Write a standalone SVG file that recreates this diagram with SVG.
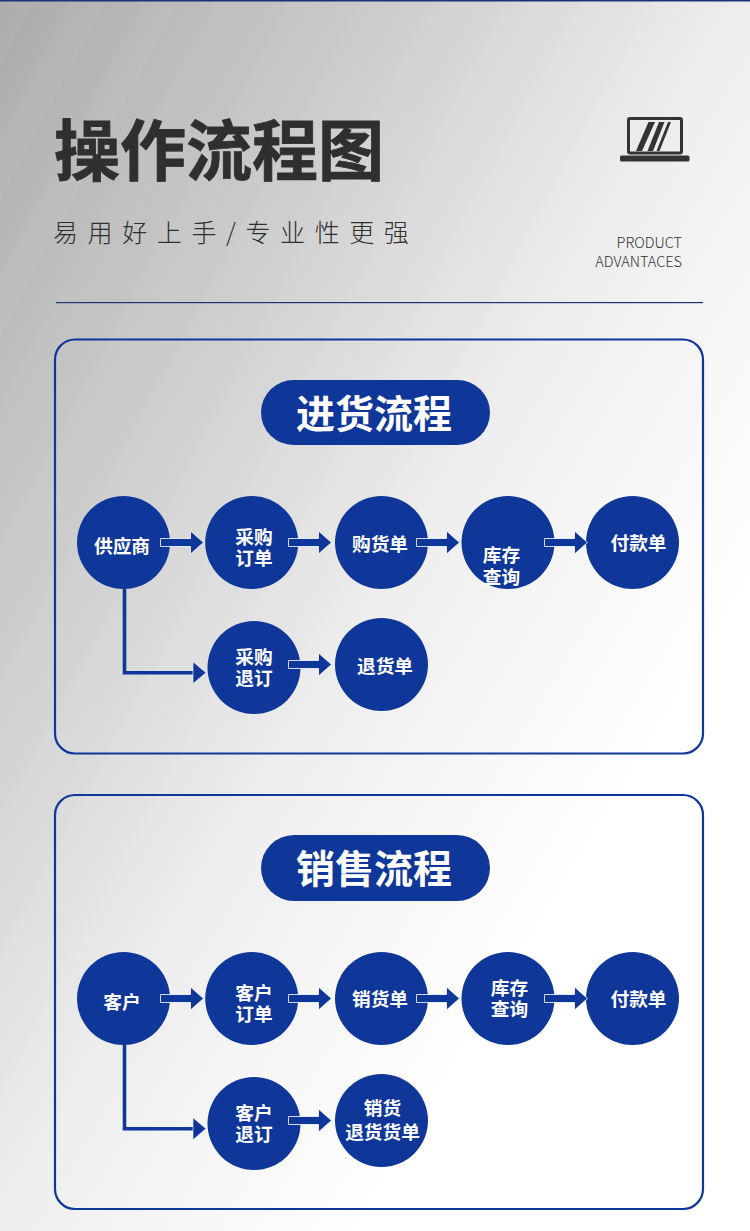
<svg xmlns="http://www.w3.org/2000/svg" width="750" height="1231" viewBox="0 0 750 1231">
<style>
text{font-family:"Noto Sans CJK SC","Noto Sans",sans-serif}
.panel{fill:none;stroke:#0f3699;stroke-width:2.2}
.pill{fill:#0f3699}
.pt{font-size:39px;font-weight:700;fill:#fff;text-anchor:middle}
.c{fill:#0f3699}
.n{font-size:18.7px;font-weight:700;fill:#fff;text-anchor:middle}
.ar{fill:#0f3699;stroke:#fff;stroke-width:.8}
.el{fill:none;stroke:#0f3699;stroke-width:3.6}
.hd{fill:#0f3699;stroke:#fff;stroke-width:.6}
</style>
<defs>
<linearGradient id="bg" gradientUnits="userSpaceOnUse" x1="0" y1="0" x2="811" y2="494">
<stop offset="0" stop-color="#ababab"/><stop offset=".383" stop-color="#cfcfcf"/><stop offset=".674" stop-color="#eeeeee"/><stop offset="1" stop-color="#fff"/>
</linearGradient>
<pattern id="stripes" patternUnits="userSpaceOnUse" width="64" height="64" patternTransform="rotate(28)">
<rect width="30" height="64" fill="#fff" fill-opacity=".022"/>
</pattern>
<polygon id="arrow" points="0,-4 30,-4 30,-11.500 43,0 30,11.500 30,4 0,4"/>
<polygon id="head" points="0,-11 13,0 0,11"/>
</defs>
<rect id="background" width="750" height="1231" fill="url(#bg)"/>
<rect id="background-stripes" width="750" height="1231" fill="url(#stripes)"/>
<rect id="top-rule" width="750" height="1.500" fill="#1c3474"/>
<g id="header">
<text x="54" y="175" font-size="66" font-weight="700" fill="#2f2f2f" stroke="#2f2f2f" stroke-width=".8">操作流程图</text>
<text x="53" y="242" font-size="25" font-weight="300" letter-spacing="9.600" fill="#2f2f2f">易用好上手/专业性更强</text>
<text x="682" y="248" font-size="14.500" font-weight="300" fill="#333" text-anchor="end">PRODUCT</text>
<text x="682" y="267" font-size="14.500" font-weight="300" fill="#333" text-anchor="end">ADVANTACES</text>
<rect x="56" y="302" width="647" height="1.200" fill="#1c3474"/>
</g>
<g id="laptop-icon" fill="#333">
<rect x="628.500" y="118.500" width="53" height="34.500" rx="1.500" fill="none" stroke="#333" stroke-width="3"/>
<rect x="620" y="155.500" width="69.500" height="6" rx="1.500"/>
<polygon points="636,151 648.500,122 655,122 642,151"/>
<polygon points="647.500,151 659,122 664.500,122 653,151"/>
<polygon points="656.500,151 668,122 671,122 659.500,151"/>
</g>
<g id="panel-purchase">
<rect class="panel" x="55" y="339.500" width="648" height="414" rx="20"/>
<rect class="pill" x="261" y="380" width="229" height="65" rx="32.500"/>
<text class="pt" x="374" y="428">进货流程</text>
</g>
<g id="panel-sales">
<rect class="panel" x="55" y="795" width="648" height="414" rx="20"/>
<rect class="pill" x="261" y="835" width="229" height="66" rx="33"/>
<text class="pt" x="374" y="883">销售流程</text>
</g>
<g id="n-supplier"><circle class="c" cx="123.500" cy="542.500" r="46.500"/><text class="n" x="122" y="553">供应商</text></g>
<g id="n-po"><circle class="c" cx="251.700" cy="542.500" r="46.500"/><text class="n" y="543.500"><tspan x="254">采购</tspan><tspan x="254" dy="21">订单</tspan></text></g>
<g id="n-receipt"><circle class="c" cx="381.500" cy="542.500" r="46.500"/><text class="n" x="380" y="551">购货单</text></g>
<g id="n-stock1"><circle class="c" cx="508" cy="542.500" r="46.500"/><text class="n" y="562"><tspan x="501.500">库存</tspan><tspan x="501.500" dy="21.500">查询</tspan></text></g>
<g id="n-pay1"><circle class="c" cx="632.500" cy="542.500" r="46.500"/><text class="n" x="638.500" y="550">付款单</text></g>
<g id="n-po-return"><circle class="c" cx="254" cy="667.500" r="46.500"/><text class="n" y="663.500"><tspan x="254">采购</tspan><tspan x="254" dy="21">退订</tspan></text></g>
<g id="n-return"><circle class="c" cx="381.500" cy="664.500" r="46.500"/><text class="n" x="385" y="673">退货单</text></g>
<g id="n-customer"><circle class="c" cx="123.500" cy="998.500" r="46.500"/><text class="n" x="122" y="1009">客户</text></g>
<g id="n-so"><circle class="c" cx="251.700" cy="998.500" r="46.500"/><text class="n" y="999.500"><tspan x="254">客户</tspan><tspan x="254" dy="21">订单</tspan></text></g>
<g id="n-delivery"><circle class="c" cx="381.500" cy="998.500" r="46.500"/><text class="n" x="380" y="1006">销货单</text></g>
<g id="n-stock2"><circle class="c" cx="508" cy="998.500" r="46.500"/><text class="n" y="995"><tspan x="509.500">库存</tspan><tspan x="509.500" dy="21">查询</tspan></text></g>
<g id="n-pay2"><circle class="c" cx="632.500" cy="998.500" r="46.500"/><text class="n" x="638.500" y="1006">付款单</text></g>
<g id="n-so-return"><circle class="c" cx="254" cy="1123.500" r="46.500"/><text class="n" y="1119.500"><tspan x="254">客户</tspan><tspan x="254" dy="21">退订</tspan></text></g>
<g id="n-sales-return"><circle class="c" cx="381.500" cy="1120.500" r="46.500"/><text class="n" y="1115"><tspan x="382.500">销货</tspan><tspan x="382.500" dy="24">退货货单</tspan></text></g>
<g id="connectors">
<use href="#arrow" class="ar" x="160.500" y="542.500"/>
<use href="#arrow" class="ar" x="288.500" y="542.500"/>
<use href="#arrow" class="ar" x="416.500" y="542.500"/>
<use href="#arrow" class="ar" x="544.500" y="542.500"/>
<use href="#arrow" class="ar" x="288.500" y="664.500"/>
<path class="el" d="M124.500 589V672.700H194"/>
<use href="#head" class="hd" x="193" y="672.700"/>
<use href="#arrow" class="ar" x="160.500" y="998.500"/>
<use href="#arrow" class="ar" x="288.500" y="998.500"/>
<use href="#arrow" class="ar" x="416.500" y="998.500"/>
<use href="#arrow" class="ar" x="544.500" y="998.500"/>
<use href="#arrow" class="ar" x="288.500" y="1120.500"/>
<path class="el" d="M124.500 1045V1128.700H194"/>
<use href="#head" class="hd" x="193" y="1128.700"/>
</g>
</svg>
